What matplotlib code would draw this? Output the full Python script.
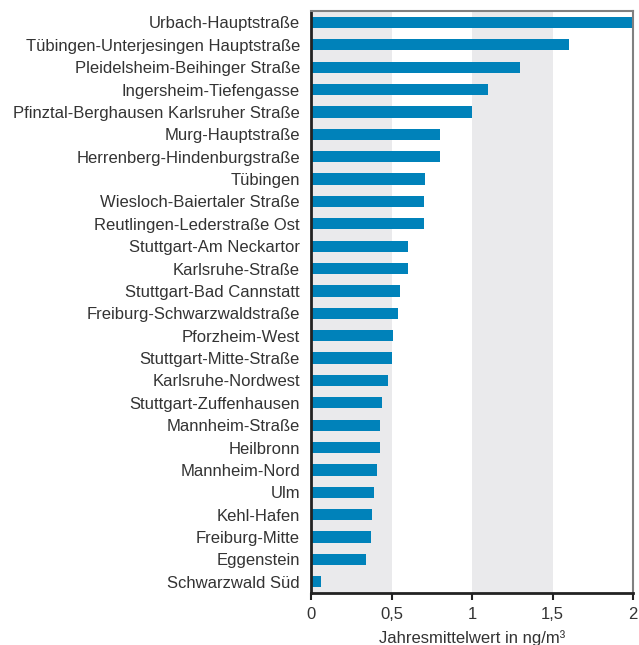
import matplotlib
matplotlib.use('Agg')
import matplotlib.pyplot as plt

# Messstellen und Jahresmittelwerte (ng/m3), von oben nach unten
stations = [
    'Urbach-Hauptstraße',
    'Tübingen-Unterjesingen Hauptstraße',
    'Pleidelsheim-Beihinger Straße',
    'Ingersheim-Tiefengasse',
    'Pfinztal-Berghausen Karlsruher Straße',
    'Murg-Hauptstraße',
    'Herrenberg-Hindenburgstraße',
    'Tübingen',
    'Wiesloch-Baiertaler Straße',
    'Reutlingen-Lederstraße Ost',
    'Stuttgart-Am Neckartor',
    'Karlsruhe-Straße',
    'Stuttgart-Bad Cannstatt',
    'Freiburg-Schwarzwaldstraße',
    'Pforzheim-West',
    'Stuttgart-Mitte-Straße',
    'Karlsruhe-Nordwest',
    'Stuttgart-Zuffenhausen',
    'Mannheim-Straße',
    'Heilbronn',
    'Mannheim-Nord',
    'Ulm',
    'Kehl-Hafen',
    'Freiburg-Mitte',
    'Eggenstein',
    'Schwarzwald Süd',
]
values = [2.0, 1.6, 1.3, 1.1, 1.0, 0.8, 0.8, 0.71, 0.7, 0.7, 0.6, 0.6,
          0.55, 0.54, 0.51, 0.5, 0.48, 0.44, 0.43, 0.43, 0.41, 0.39,
          0.38, 0.37, 0.34, 0.06]
xticks = [0, 0.5, 1, 1.5, 2]
xticklabels = ['0', '0,5', '1', '1,5', '2']

plt.rcParams['font.family'] = ['Liberation Sans', 'DejaVu Sans']

text_color = '#333333'
bar_color = '#0082BA'
band_color = '#EAEAEC'
fs = 12

fig = plt.figure(figsize=(6.39, 6.45), dpi=100)
ax = fig.add_axes([0.4867, 0.0806, 0.504, 0.902])

# graue Hintergrundstreifen
for lo, hi in [(0, 0.5), (1, 1.5)]:
    ax.axvspan(lo, hi, color=band_color, zorder=0, lw=0)

pos = list(range(len(stations)))
ax.barh(pos, values, height=0.5, color=bar_color, zorder=2)

ax.set_xlim(0, 2)
ax.set_ylim(len(stations) - 0.5, -0.5)
ax.set_yticks(pos)
ax.set_yticklabels(stations, fontsize=fs, color=text_color)
ax.tick_params(axis='y', length=0, pad=8)
ax.set_xticks(xticks)
ax.set_xticklabels(xticklabels, fontsize=fs, color=text_color)
ax.tick_params(axis='x', direction='out', length=5, width=1.5,
               color='#222222', pad=5)
ax.set_xlabel('Jahresmittelwert in ng/m³', fontsize=fs,
              color=text_color, labelpad=6)

for side in ['left', 'bottom']:
    ax.spines[side].set_color('#222222')
    ax.spines[side].set_linewidth(2)
for side in ['top', 'right']:
    ax.spines[side].set_color('#808080')
    ax.spines[side].set_linewidth(1.5)

fig.savefig('out.png', dpi=100)
